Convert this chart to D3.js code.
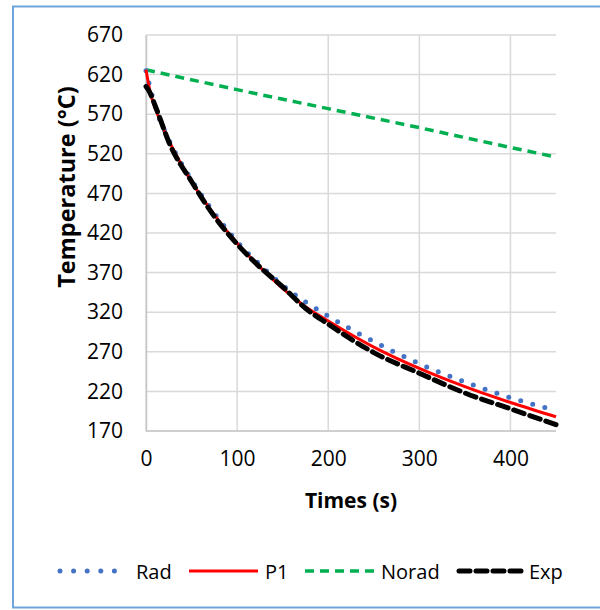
<!DOCTYPE html>
<html>
<head>
<meta charset="utf-8">
<script src="https://cdn.jsdelivr.net/npm/d3@7"></script>
<style>
  body { margin: 0; background: #fff; }
  text { font-family: "Open Sans", Lato, sans-serif; fill: #000; }
</style>
</head>
<body>
<div id="chart"></div>
<script>
// data
var radTime = [0, 10, 25, 50, 75, 100, 125, 150, 175, 200, 250, 300, 350, 400, 450];
var radTemp = [625, 580, 538, 487, 445, 409, 380, 354, 333, 315, 283, 255, 232, 212, 196];

var p1Time = [0, 5, 10, 25, 50, 75, 100, 125, 150, 175, 200, 250, 300, 350, 400, 450];
var p1Temp = [626, 596, 578, 537, 485, 443, 407, 377, 350, 327, 309, 276, 249, 226, 206, 188];

var noradTime = [0, 100, 200, 300, 400, 450];
var noradTemp = [626, 601, 577, 553, 528, 516];

var expTime = [0, 3, 12, 25, 50, 75, 100, 125, 150, 175, 200, 250, 300, 350, 400, 450];
var expTemp = [605, 600, 575, 535, 485, 441, 406, 377, 352, 325, 305, 269, 243, 218, 198, 178];

var xTicks = [0, 100, 200, 300, 400];
var yTicks = [170, 220, 270, 320, 370, 420, 470, 520, 570, 620, 670];

var svgWidth = 600;
var svgHeight = 610;

var margin = { top: 35, left: 146, right: 44, bottom: 179 };
var width = svgWidth - margin.left - margin.right;   // 410
var height = svgHeight - margin.top - margin.bottom; // 396

var svg = d3.select("#chart").append("svg")
    .attr("width", svgWidth)
    .attr("height", svgHeight);

// outer border
svg.append("rect")
    .attr("x", 13)
    .attr("y", 6.5)
    .attr("width", 600)
    .attr("height", 601)
    .attr("fill", "none")
    .attr("stroke", "#6fa3dc")
    .attr("stroke-width", 2);

var chartGroup = svg.append("g")
    .attr("transform", `translate(${margin.left}, ${margin.top})`);

var xScale = d3.scaleLinear().domain([0, 450]).range([0, width]);
var yScale = d3.scaleLinear().domain([170, 670]).range([height, 0]);

// gridlines
chartGroup.append("g")
    .selectAll("line")
    .data(yTicks)
    .enter()
    .append("line")
    .attr("x1", 0)
    .attr("x2", width)
    .attr("y1", d => yScale(d))
    .attr("y2", d => yScale(d))
    .attr("stroke", "#d9d9d9")
    .attr("stroke-width", 1.5);

chartGroup.append("g")
    .selectAll("line")
    .data(xTicks)
    .enter()
    .append("line")
    .attr("x1", d => xScale(d))
    .attr("x2", d => xScale(d))
    .attr("y1", 0)
    .attr("y2", height)
    .attr("stroke", "#d9d9d9")
    .attr("stroke-width", 1.5);

// axes
var bottomAxis = d3.axisBottom(xScale).tickValues(xTicks).tickSize(0).tickPadding(20);
var leftAxis = d3.axisLeft(yScale).tickValues(yTicks).tickSize(0).tickPadding(23);

var xAxis = chartGroup.append("g")
    .attr("transform", `translate(0, ${height})`)
    .call(bottomAxis);
var yAxis = chartGroup.append("g").call(leftAxis);

[xAxis, yAxis].forEach(function(ax) {
    ax.select(".domain").attr("stroke", "#c8c8c8").attr("stroke-width", 1.5);
    ax.selectAll("text")
        .attr("font-family", "'Open Sans', sans-serif")
        .attr("font-size", "21px")
        .attr("fill", "#000");
});
xAxis.select(".domain").attr("d", `M0,0H${width}`);

// series
var line = d3.line()
    .x(d => xScale(d[0]))
    .y(d => yScale(d[1]))
    .curve(d3.curveMonotoneX);

var series = [
    { name: "Norad", t: noradTime, v: noradTemp, color: "#00b050", w: 3.5, dash: "9,6", cap: "butt" },
    { name: "Rad", t: radTime, v: radTemp, color: "#4472c4", w: 5, dash: "0,12.5", cap: "round" },
    { name: "P1", t: p1Time, v: p1Temp, color: "#ff0000", w: 3, dash: null, cap: "butt" },
    { name: "Exp", t: expTime, v: expTemp, color: "#000000", w: 5, dash: "11,6", cap: "round" }
];

series.forEach(function(s) {
    var pts = s.t.map((t, i) => [t, s.v[i]]);
    chartGroup.append("path")
        .datum(pts)
        .attr("d", line)
        .attr("fill", "none")
        .attr("stroke", s.color)
        .attr("stroke-width", s.w)
        .attr("stroke-linecap", s.cap)
        .attr("stroke-dasharray", s.dash);
});

// axis titles
svg.append("text")
    .attr("transform", "translate(66, 187) rotate(-90)")
    .attr("text-anchor", "middle")
    .attr("dominant-baseline", "central")
    .attr("font-size", "23.5px")
    .attr("font-weight", "bold")
    .text("Temperature (°C)");

svg.append("text")
    .attr("x", 351)
    .attr("y", 500)
    .attr("text-anchor", "middle")
    .attr("dominant-baseline", "central")
    .attr("font-size", "21px")
    .attr("font-weight", "bold")
    .text("Times (s)");

// legend
var legendItems = [
    { name: "Rad", x1: 60, x2: 128, lx: 136 },
    { name: "P1", x1: 189, x2: 258, lx: 265 },
    { name: "Norad", x1: 305, x2: 375, lx: 381 },
    { name: "Exp", x1: 459, x2: 525, lx: 529 }
];
var legend = svg.append("g");
legendItems.forEach(function(item) {
    var s = series.find(d => d.name === item.name);
    legend.append("line")
        .attr("x1", item.x1)
        .attr("x2", item.x2)
        .attr("y1", 571)
        .attr("y2", 571)
        .attr("stroke", s.color)
        .attr("stroke-width", s.w)
        .attr("stroke-linecap", s.cap)
        .attr("stroke-dasharray", item.name === "Rad" ? "0,13.6" : s.dash);
    legend.append("text")
        .attr("x", item.lx)
        .attr("y", 571)
        .attr("dominant-baseline", "central")
        .attr("font-size", "20px")
        .text(item.name);
});
</script>
</body>
</html>
